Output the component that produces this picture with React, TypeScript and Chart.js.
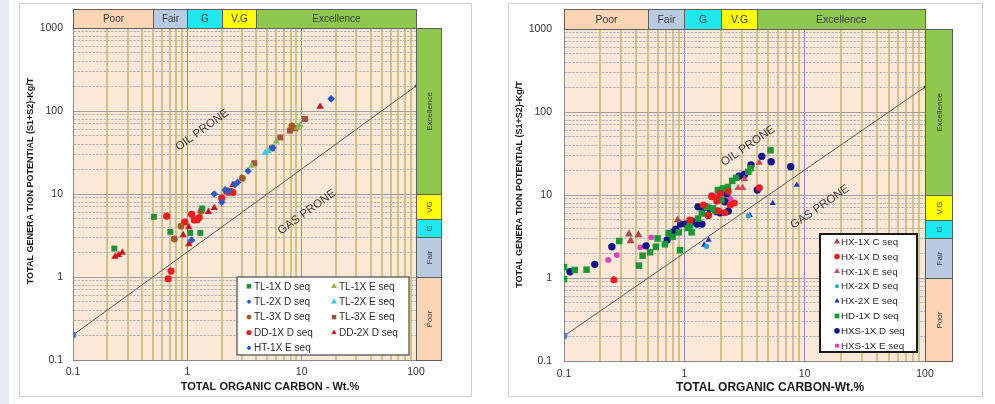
import React, { useEffect, useRef } from "react";
import { Chart, registerables } from "chart.js";
Chart.register(...registerables);

type P = [number, number];

// ---------- Left chart data (TOC wt.%, S1+S2 kg/t) ----------
const TL1X_D: P[] = [[0.23, 2.2], [0.51, 5.3], [0.71, 3.5], [1.06, 3.4], [1.3, 3.4], [1.35, 6.7]];
const TL1X_E: P[] = [[3.65, 22], [6.0, 43], [9.7, 68], [9.2, 63]];
const TL2X_D: P[] = [[1.09, 2.78], [1.72, 10], [2.0, 7.95], [2.14, 11.2], [2.6, 12.9], [2.75, 13.8], [3.4, 18.9], [5.6, 36], [2.3, 10.8]];
const TL2X_E: P[] = [[4.8, 31.5], [5.1, 33]];
const TL3X_D: P[] = [[0.77, 2.87], [0.88, 4.1], [1.32, 6.2], [3.03, 15.5], [8.2, 66]];
const TL3X_E: P[] = [[3.85, 23.5], [5.5, 35.6], [6.5, 48], [7.9, 58], [8.8, 62], [10.7, 80]];
const DD1X_D: P[] = [[0.66, 5.4], [0.68, 0.95], [0.72, 1.18], [0.95, 4.6], [1.09, 5.7], [1.15, 4.85], [1.22, 4.9], [1.27, 5.2], [2.0, 8.9], [2.2, 10.9], [2.3, 10.5], [2.4, 10.7], [2.5, 10.4]];
const DD2X_D: P[] = [[0.233, 1.76], [0.25, 1.84], [0.27, 1.96], [0.92, 3.2], [1.03, 2.48], [1.03, 4.0], [1.53, 6.1], [1.72, 6.8], [2.5, 12.9], [14.5, 113]];
const HT1X_E: P[] = [[18.1, 140]];

// ---------- Right chart data ----------
const HX1X_C: P[] = [[0.347, 3.37], [0.358, 2.8], [0.415, 3.3], [0.88, 5.0]];
const HX1X_D: P[] = [[0.26, 0.95], [1.11, 5.0], [1.44, 7.6], [1.58, 5.7], [1.69, 9.5], [1.69, 9.8], [1.86, 9.1], [1.86, 8.4], [1.92, 6.4], [2.0, 10.5], [2.17, 6.1], [2.32, 11], [2.4, 7.6], [2.6, 8.0], [4.2, 12.2]];
const HX1X_E: P[] = [[2.8, 12.2], [3.05, 12.2], [3.16, 15.6], [4.2, 24.5]];
const HX2X_D: P[] = [[1.53, 2.4], [3.4, 5.6]];
const HX2X_E: P[] = [[1.46, 2.5], [1.59, 2.87], [3.5, 5.7], [5.43, 7.95], [8.6, 13.2]];
const HD1X_D: P[] = [[0.1, 1.35], [0.1, 0.97], [0.123, 1.25], [0.154, 1.26], [0.288, 2.79], [0.42, 1.41], [0.45, 1.86], [0.52, 2.04], [0.58, 2.38], [0.6, 3.0], [0.69, 2.55], [0.74, 3.46], [0.8, 3.15], [0.9, 3.55], [0.92, 2.17], [1.07, 4.0], [1.11, 4.3], [1.15, 3.55], [1.3, 5.2], [1.4, 6.0], [1.53, 7.2], [1.73, 6.9], [1.8, 6.5], [1.9, 11.5], [2.04, 8.7], [2.1, 12], [2.2, 11.8], [2.3, 12.5], [2.5, 14.8], [2.7, 16.1], [3.4, 19], [3.55, 21], [5.2, 34.5]];
const HXS1X_D: P[] = [[0.112, 1.19], [0.18, 1.46], [0.25, 2.38], [0.48, 2.44], [0.72, 2.87], [0.81, 3.6], [0.85, 3.86], [0.93, 4.46], [1.03, 4.46], [1.15, 4.86], [1.27, 4.46], [1.3, 7.2], [1.4, 4.46], [1.44, 7.0], [1.53, 7.2], [1.58, 5.7], [1.63, 6.9], [1.86, 6.3], [1.98, 6.1], [1.98, 11], [2.17, 8.3], [2.25, 10.4], [2.32, 6.4], [2.85, 16.9], [3.16, 17.7], [3.58, 23], [4.04, 11.5], [4.4, 29.2], [5.27, 25.2], [7.66, 21.9]];
const HXS1X_E: P[] = [[0.233, 1.65], [0.275, 1.89], [0.43, 2.34], [0.53, 3.09], [1.9, 10.2], [2.17, 9.5], [2.4, 9.0]];

// ---------- Shared axes / classification ----------
const X_TICK_LABELS = ["0.1", "1", "10", "100"];
const Y_TICK_LABELS = ["0.1", "1", "10", "100", "1000"];
const TOC_BAND_EDGES = [0.1, 0.5, 1, 2, 4, 100];
const TOC_BAND_NAMES = ["Poor", "Fair", "G", "V.G", "Excellence"];
const GP_BAND_EDGES = [0.1, 1, 3, 5, 10, 1000];
const GP_BAND_NAMES_L = ["Poor", "Fair", "G", "VG", "Excellence"];
const GP_BAND_NAMES_R = ["Poor", "Fair", "G", "V.G", "Excellence"];
const BAND_COLORS = ["#fcd5b5", "#b9cbe2", "#1ee8f0", "#ffff00", "#8ec851"];
const DIVIDER: P[] = [[0.1, 0.2], [100, 200]];

const FONT = "Arial, 'Liberation Sans', sans-serif";
const PLOT_BG = "#fce8d8";

type Series = { label: string; pts: P[]; style: string; color: string; r: number; lr: number };

const LEFT_SERIES: Series[] = [
  { label: "TL-1X D seq", pts: TL1X_D, style: "rect", color: "#1f8f3a", r: 4.2, lr: 3.2 },
  { label: "TL-1X E seq", pts: TL1X_E, style: "triangle", color: "#8db550", r: 4.2, lr: 3.4 },
  { label: "TL-2X D seq", pts: TL2X_D, style: "rectRot", color: "#2a5cc8", r: 3.8, lr: 2.4 },
  { label: "TL-2X E seq", pts: TL2X_E, style: "triangle", color: "#3cc8e6", r: 4.2, lr: 3.4 },
  { label: "TL-3X D seq", pts: TL3X_D, style: "circle", color: "#a35a1f", r: 3.4, lr: 2.4 },
  { label: "TL-3X E seq", pts: TL3X_E, style: "rect", color: "#a0523c", r: 4.2, lr: 3.2 },
  { label: "DD-1X D seq", pts: DD1X_D, style: "circle", color: "#ee1c1c", r: 3.6, lr: 2.6 },
  { label: "DD-2X D seq", pts: DD2X_D, style: "triangle", color: "#c8141a", r: 4.2, lr: 3.0 },
  { label: "HT-1X E seq", pts: HT1X_E, style: "rectRot", color: "#1f4fc4", r: 3.8, lr: 2.4 },
];

const RIGHT_SERIES: Series[] = [
  { label: "HX-1X C seq", pts: HX1X_C, style: "triangle", color: "#a84848", r: 4.6, lr: 3.6 },
  { label: "HX-1X D seq", pts: HX1X_D, style: "circle", color: "#ee1c1c", r: 3.5, lr: 2.8 },
  { label: "HX-1X E seq", pts: HX1X_E, style: "triangle", color: "#d24a5a", r: 4.2, lr: 3.4 },
  { label: "HX-2X D seq", pts: HX2X_D, style: "circle", color: "#2aa6cc", r: 2.6, lr: 2.0 },
  { label: "HX-2X E seq", pts: HX2X_E, style: "triangle", color: "#2232b4", r: 3.6, lr: 3.0 },
  { label: "HD-1X D seq", pts: HD1X_D, style: "rect", color: "#1b9632", r: 4.6, lr: 3.4 },
  { label: "HXS-1X D seq", pts: HXS1X_D, style: "circle", color: "#12128c", r: 3.7, lr: 2.8 },
  { label: "HXS-1X E seq", pts: HXS1X_E, style: "circle", color: "#e040c0", r: 2.9, lr: 2.2 },
];

const isPow10 = (v: number) => Math.abs(Math.log10(v) - Math.round(Math.log10(v))) < 1e-9;

function logTicks(min: number, max: number) {
  const out: { value: number; major: boolean }[] = [];
  const e0 = Math.round(Math.log10(min));
  const e1 = Math.round(Math.log10(max));
  for (let e = e0; e < e1; e++) {
    for (let m = 1; m < 10; m++) out.push({ value: +(m * Math.pow(10, e)).toPrecision(6), major: m === 1 });
  }
  out.push({ value: max, major: true });
  return out;
}

function drawMarker(ctx: CanvasRenderingContext2D, style: string, x: number, y: number, r: number, color: string) {
  ctx.save();
  ctx.fillStyle = color;
  ctx.beginPath();
  if (style === "circle") {
    ctx.arc(x, y, r, 0, Math.PI * 2);
  } else if (style === "rect") {
    const s = r * Math.SQRT1_2;
    ctx.rect(x - s, y - s, 2 * s, 2 * s);
  } else if (style === "triangle") {
    for (let i = 0; i < 3; i++) {
      const a = (i * 2 * Math.PI) / 3;
      const px = x + Math.sin(a) * r;
      const py = y - Math.cos(a) * r;
      if (i === 0) ctx.moveTo(px, py);
      else ctx.lineTo(px, py);
    }
    ctx.closePath();
  } else {
    ctx.moveTo(x, y - r);
    ctx.lineTo(x + r, y);
    ctx.lineTo(x, y + r);
    ctx.lineTo(x - r, y);
    ctx.closePath();
  }
  ctx.fill();
  ctx.restore();
}

type Cfg = {
  series: Series[];
  width: number;
  height: number;
  padTop: number;
  padRight: number;
  yWidth: number;
  xHeight: number;
  yTickPad: number;
  xTickPad: number;
  tickFont: number;
  topBandH: number;
  topBandFont: number;
  rightBandW: number;
  rightBandNames: string[];
  rightBandFont: number;
  yTitle: string;
  yTitlePos: [number, number];
  yTitleFont: number;
  xTitle: string;
  xTitlePos: [number, number];
  xTitleFont: number;
  oilPos: P;
  gasPos: P;
  proneFont: number;
  legend: { x: number; y: number; w: number; h: number; cols: number[]; row0: number; step: number; ncol: number; gap: number; font: number; border: string; borderW: number };
};

function buildChart(canvas: HTMLCanvasElement, cfg: Cfg) {
  const datasets: any[] = cfg.series.map((s) => ({
    label: s.label,
    data: s.pts.map(([x, y]) => ({ x, y })),
    pointStyle: s.style,
    pointRadius: s.r,
    pointBackgroundColor: s.color,
    pointBorderColor: s.color,
    pointBorderWidth: 0,
    backgroundColor: s.color,
    borderColor: s.color,
    legendR: s.lr,
  }));
  datasets.push({
    label: "",
    data: DIVIDER.map(([x, y]) => ({ x, y })),
    showLine: true,
    borderColor: "#5a5a5a",
    borderWidth: 1,
    pointRadius: [3.4, 1.6],
    pointBackgroundColor: ["#4f7fbf", "#444"],
    pointBorderWidth: 0,
    order: 10,
    isDivider: true,
  });

  const decor = {
    id: "decor",
    beforeDraw(chart: any) {
      const { ctx, chartArea: a } = chart;
      ctx.save();
      ctx.fillStyle = PLOT_BG;
      ctx.fillRect(a.left, a.top, a.right - a.left, a.bottom - a.top);
      ctx.restore();
    },
    afterDraw(chart: any) {
      const { ctx, chartArea: a } = chart;
      const xs = chart.scales.x;
      const ys = chart.scales.y;
      ctx.save();
      // top band (TOC classes)
      ctx.lineWidth = 1;
      ctx.strokeStyle = "#5e5e5e";
      ctx.textAlign = "center";
      ctx.textBaseline = "middle";
      ctx.font = `${cfg.topBandFont}px ${FONT}`;
      for (let i = 0; i < TOC_BAND_NAMES.length; i++) {
        const x0 = Math.round(xs.getPixelForValue(TOC_BAND_EDGES[i])) + 0.5;
        const x1 = Math.round(xs.getPixelForValue(TOC_BAND_EDGES[i + 1])) + 0.5;
        const y0 = Math.round(a.top - cfg.topBandH) + 0.5;
        const y1 = Math.round(a.top) + 0.5;
        ctx.fillStyle = BAND_COLORS[i];
        ctx.fillRect(x0, y0, x1 - x0, y1 - y0);
        ctx.strokeRect(x0, y0, x1 - x0, y1 - y0);
        ctx.fillStyle = "#3a3a3a";
        ctx.fillText(TOC_BAND_NAMES[i], (x0 + x1) / 2, (y0 + y1) / 2 + 0.5);
      }
      // right band (generation potential classes)
      ctx.font = `${cfg.rightBandFont}px ${FONT}`;
      for (let i = 0; i < cfg.rightBandNames.length; i++) {
        const yb = Math.round(ys.getPixelForValue(GP_BAND_EDGES[i])) + 0.5;
        const yt = Math.round(ys.getPixelForValue(GP_BAND_EDGES[i + 1])) + 0.5;
        const x0 = Math.round(a.right) + 0.5;
        const x1 = Math.round(a.right + cfg.rightBandW) + 0.5;
        ctx.fillStyle = BAND_COLORS[i];
        ctx.fillRect(x0, yt, x1 - x0, yb - yt);
        ctx.strokeRect(x0, yt, x1 - x0, yb - yt);
        ctx.save();
        ctx.translate((x0 + x1) / 2, (yt + yb) / 2);
        ctx.rotate(-Math.PI / 2);
        ctx.fillStyle = "#3a3a3a";
        ctx.fillText(cfg.rightBandNames[i], 0, 0.5);
        ctx.restore();
      }
      // prone labels
      const ang = Math.atan2(
        ys.getPixelForValue(DIVIDER[1][1]) - ys.getPixelForValue(DIVIDER[0][1]),
        xs.getPixelForValue(DIVIDER[1][0]) - xs.getPixelForValue(DIVIDER[0][0])
      );
      ctx.font = `${cfg.proneFont}px ${FONT}`;
      ctx.fillStyle = "#3c3c3c";
      const prone: [string, P][] = [["OIL PRONE", cfg.oilPos], ["GAS PRONE", cfg.gasPos]];
      for (const [txt, p] of prone) {
        ctx.save();
        ctx.translate(xs.getPixelForValue(p[0]), ys.getPixelForValue(p[1]));
        ctx.rotate(ang);
        ctx.fillText(txt, 0, 0);
        ctx.restore();
      }
      // axis titles
      ctx.fillStyle = "#1a1a1a";
      ctx.font = `bold ${cfg.xTitleFont}px ${FONT}`;
      ctx.fillText(cfg.xTitle, cfg.xTitlePos[0], cfg.xTitlePos[1]);
      ctx.save();
      ctx.translate(cfg.yTitlePos[0], cfg.yTitlePos[1]);
      ctx.rotate(-Math.PI / 2);
      ctx.font = `bold ${cfg.yTitleFont}px ${FONT}`;
      ctx.fillText(cfg.yTitle, 0, 0);
      ctx.restore();
      // legend
      const L = cfg.legend;
      ctx.fillStyle = "#ffffff";
      ctx.fillRect(L.x, L.y, L.w, L.h);
      ctx.lineWidth = L.borderW;
      ctx.strokeStyle = L.border;
      ctx.strokeRect(L.x, L.y, L.w, L.h);
      ctx.font = `${L.font}px ${FONT}`;
      ctx.textAlign = "left";
      ctx.fillStyle = "#2a2a2a";
      const items = chart.data.datasets.filter((d: any) => !d.isDivider);
      items.forEach((d: any, i: number) => {
        const col = i % L.ncol;
        const row = Math.floor(i / L.ncol);
        const mx = L.x + L.cols[col];
        const my = L.y + L.row0 + row * L.step;
        drawMarker(ctx, d.pointStyle, mx, my, d.legendR, d.backgroundColor);
        ctx.fillStyle = "#2a2a2a";
        ctx.fillText(d.label, mx + L.gap, my + 0.5);
      });
      ctx.restore();
    },
  };

  const pick = (major: any, minor: any) => (c: any) => (c.tick && isPow10(c.tick.value) ? major : minor);

  return new Chart(canvas, {
    type: "scatter",
    data: { datasets },
    plugins: [decor],
    options: {
      responsive: false,
      animation: false,
      events: [],
      layout: { padding: { top: cfg.padTop, right: cfg.padRight, left: 0, bottom: 0 } },
      plugins: { legend: { display: false }, tooltip: { enabled: false } },
      scales: {
        x: {
          type: "logarithmic",
          min: 0.1,
          max: 100,
          afterBuildTicks: (s: any) => { s.ticks = logTicks(0.1, 100); },
          afterFit: (s: any) => { s.height = cfg.xHeight; },
          ticks: {
            autoSkip: false,
            maxRotation: 0,
            padding: cfg.xTickPad,
            color: "#333",
            font: { family: FONT, size: cfg.tickFont },
            callback: (v: any) => (X_TICK_LABELS.includes(String(v)) ? String(v) : ""),
          },
          grid: { drawTicks: false, color: pick("#8e8ea2", "#d3c186"), lineWidth: pick(1, 2) },
          border: { display: true, color: "#8a8a8a" },
        },
        y: {
          type: "logarithmic",
          min: 0.1,
          max: 1000,
          afterBuildTicks: (s: any) => { s.ticks = logTicks(0.1, 1000); },
          afterFit: (s: any) => { s.width = cfg.yWidth; },
          ticks: {
            autoSkip: false,
            padding: cfg.yTickPad,
            color: "#333",
            font: { family: FONT, size: cfg.tickFont },
            callback: (v: any) => (Y_TICK_LABELS.includes(String(v)) ? String(v) : ""),
          },
          grid: { drawTicks: false, color: pick("#a0a0a0", "#b4b4b4"), lineWidth: 1 },
          border: {
            display: true,
            color: "#8a8a8a",
            dash: (c: any) => (c.tick && !isPow10(c.tick.value) ? [2.5, 1.2] : []),
          },
        },
      },
    } as any,
  });
}

const LEFT_CFG: Cfg = {
  series: LEFT_SERIES,
  width: 451,
  height: 392,
  padTop: 24,
  padRight: 55,
  yWidth: 53,
  xHeight: 36,
  yTickPad: 10,
  xTickPad: 6,
  tickFont: 10.5,
  topBandH: 19,
  topBandFont: 10,
  rightBandW: 25,
  rightBandNames: GP_BAND_NAMES_L,
  rightBandFont: 8,
  yTitle: "TOTAL GENERA TION POTENTIAL (S1+S2)-Kg/T",
  yTitlePos: [11, 177],
  yTitleFont: 9,
  xTitle: "TOTAL ORGANIC CARBON - Wt.%",
  xTitlePos: [250, 383],
  xTitleFont: 11,
  oilPos: [1.35, 59],
  gasPos: [11.1, 6.06],
  proneFont: 11.5,
  legend: { x: 217, y: 273, w: 172, h: 78, cols: [12, 97], row0: 9.3, step: 15.4, ncol: 2, gap: 5, font: 10, border: "#6a6a6a", borderW: 1.5 },
};

const RIGHT_CFG: Cfg = {
  series: RIGHT_SERIES,
  width: 473,
  height: 392,
  padTop: 25,
  padRight: 57,
  yWidth: 55,
  xHeight: 35,
  yTickPad: 12,
  xTickPad: 6.5,
  tickFont: 10.5,
  topBandH: 20,
  topBandFont: 10.5,
  rightBandW: 27,
  rightBandNames: GP_BAND_NAMES_R,
  rightBandFont: 8,
  yTitle: "TOTAL GENERA TION POTENTIAL (S1+S2)-Kg/T",
  yTitlePos: [11, 180.5],
  yTitleFont: 9,
  xTitle: "TOTAL ORGANIC CARBON-Wt.%",
  xTitlePos: [261, 384],
  xTitleFont: 12,
  oilPos: [3.38, 39],
  gasPos: [13.4, 7.16],
  proneFont: 11.5,
  legend: { x: 311, y: 230, w: 97, h: 118, cols: [17], row0: 7.7, step: 14.85, ncol: 1, gap: 4, font: 9.8, border: "#1a1a1a", borderW: 2 },
};

function Panel({ cfg, left, top }: { cfg: Cfg; left: number; top: number }) {
  const ref = useRef<HTMLCanvasElement | null>(null);
  useEffect(() => {
    if (!ref.current) return;
    const ch = buildChart(ref.current, cfg);
    return () => ch.destroy();
  }, [cfg]);
  return (
    <>
      <div
        style={{
          position: "absolute",
          left: left - 1,
          top: top - 1,
          width: cfg.width + 2,
          height: cfg.height + 2,
          boxSizing: "border-box",
          border: "1px solid #cfcfcf",
          background: "#fff",
        }}
      />
      <canvas
        ref={ref}
        width={cfg.width}
        height={cfg.height}
        style={{ position: "absolute", left, top, width: cfg.width, height: cfg.height }}
      />
    </>
  );
}

export default function App() {
  return (
    <div style={{ position: "absolute", left: 0, top: 0, width: 995, height: 404, background: "#ffffff", overflow: "hidden" }}>
      <div style={{ position: "absolute", left: 0, top: 0, width: 9, height: 404, background: "#e6eaf3" }} />
      <Panel cfg={LEFT_CFG} left={20} top={4} />
      <Panel cfg={RIGHT_CFG} left={509} top={4} />
    </div>
  );
}
